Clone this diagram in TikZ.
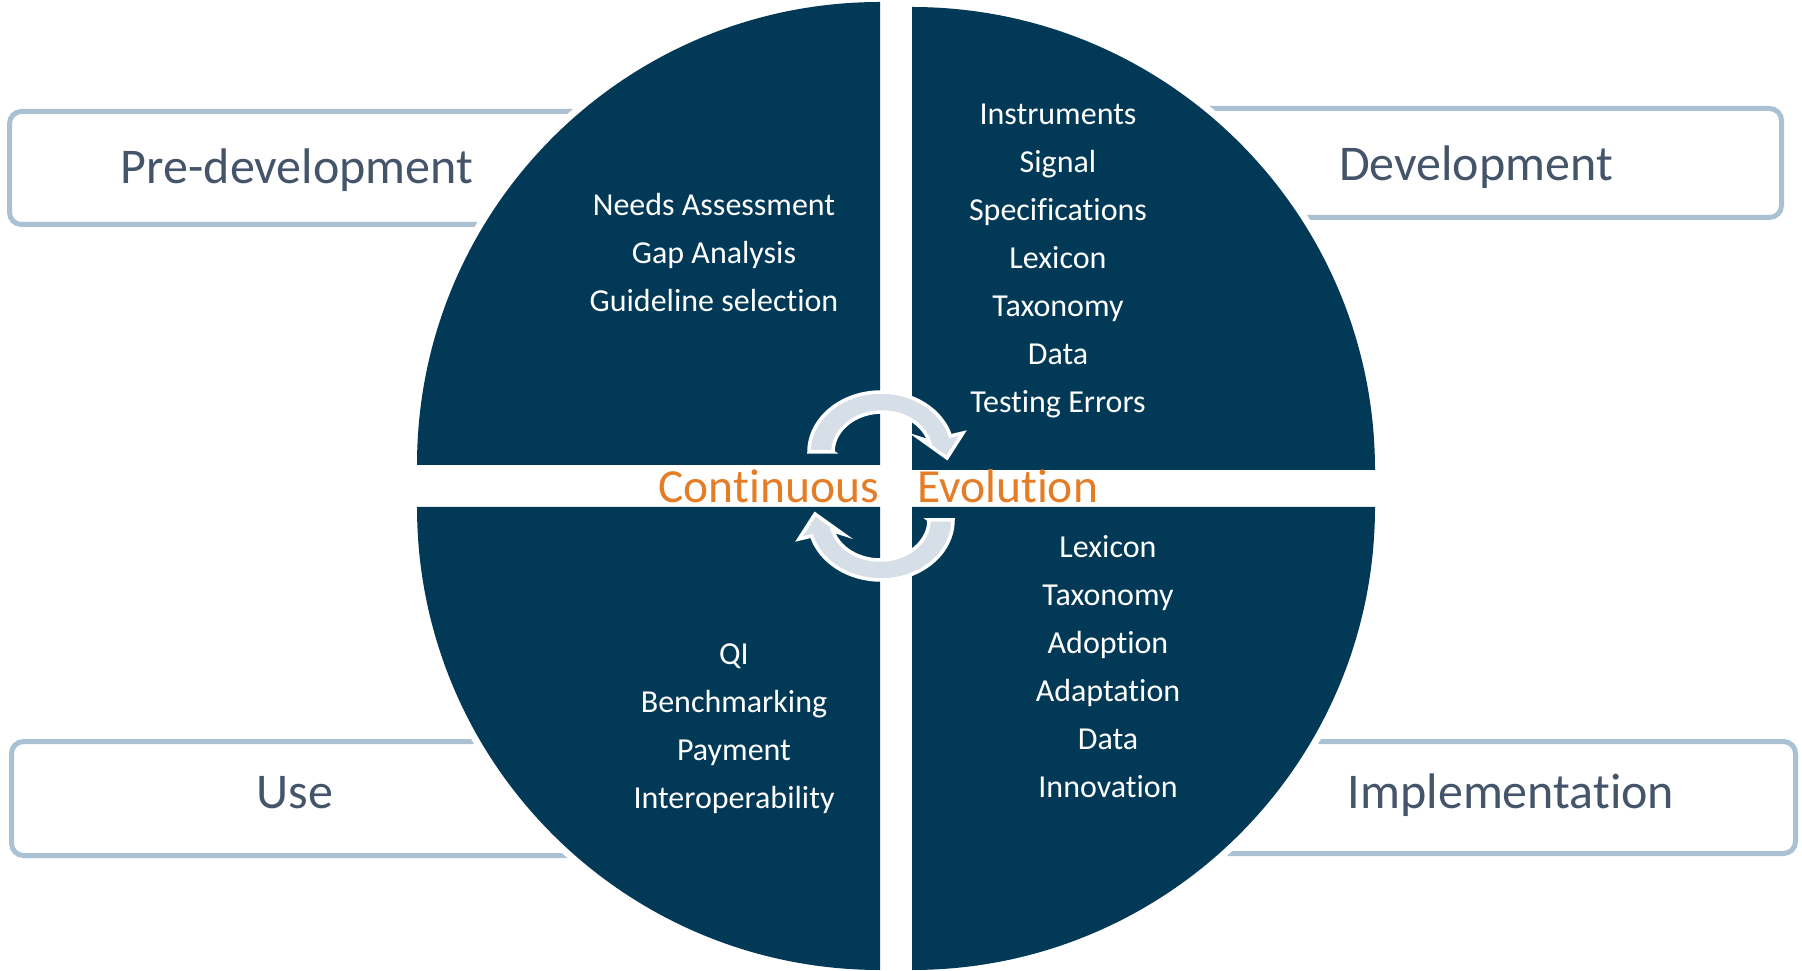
\documentclass[tikz,border=0pt]{standalone}
\usepackage{fontspec}
\setmainfont{Carlito}[Ligatures=NoCommon]
\usepackage{xcolor}

\definecolor{wheelblue}{HTML}{023957}
\definecolor{framegray}{HTML}{A9C1D2}
\definecolor{labelgray}{HTML}{44546A}
\definecolor{loopfill}{HTML}{D6DFE7}
\definecolor{evoorange}{HTML}{E47D26}

\begin{document}
\begin{tikzpicture}[x=1pt,y=1pt,
  stage/.style={draw=framegray,line width=5,rounded corners=12},
  stagelabel/.style={anchor=base,text=labelgray,inner sep=0,font=\fontsize{50}{60}\selectfont},
  item/.style={anchor=base,text=white,inner sep=0,font=\fontsize{32}{38}\selectfont},
  halo/.style={fill=white},
  quarter/.style={fill=wheelblue},
  loop/.style={fill=loopfill,draw=white,line width=3.5},
  evo/.style={text=evoorange,inner sep=0,font=\fontsize{47.5}{56}\selectfont}]
\useasboundingbox (0,0) rectangle (1802,970);

% stage frames, inner ends hidden under the wheel
\draw[stage] (9.5,745.5) rectangle (700,858.5);
\draw[stage] (1100,752.5) rectangle (1781.5,861.5);
\draw[stage] (11.5,114.5) rectangle (700,228.5);
\draw[stage] (1100,116.5) rectangle (1795.5,228.5);

% wheel quarters, each with a white rim
\fill[halo] (880,505) -- ++(-470,0) arc[start angle=180,end angle=90,radius=470] -- cycle;
\fill[quarter] (880,505) -- ++(-463,0) arc[start angle=180,end angle=90,radius=463] -- cycle;
\fill[halo] (912,500) -- ++(0,470) arc[start angle=90,end angle=0,radius=470] -- cycle;
\fill[quarter] (912,500) -- ++(0,463) arc[start angle=90,end angle=0,radius=463] -- cycle;
\fill[halo] (880,463) -- ++(-470,0) arc[start angle=180,end angle=270,radius=470] -- cycle;
\fill[quarter] (880,463) -- ++(-463,0) arc[start angle=180,end angle=270,radius=463] -- cycle;
\fill[halo] (912,463) -- ++(470,0) arc[start angle=0,end angle=-90,radius=470] -- cycle;
\fill[quarter] (912,463) -- ++(463,0) arc[start angle=0,end angle=-90,radius=463] -- cycle;

% cycle arrows
\filldraw[loop] (833,518) -- (809,518) arc[start angle=180,end angle=15.5,x radius=72,y radius=60]
  -- (963,537) -- (947,512) -- (919,532) -- (929.2,528.7)
  arc[start angle=15.5,end angle=180,x radius=49,y radius=40] -- cycle;
\begin{scope}[rotate around={180:(881,484)}]
\filldraw[loop] (833,518) -- (809,518) arc[start angle=180,end angle=15.5,x radius=72,y radius=60]
  -- (963,537) -- (947,512) -- (919,532) -- (929.2,528.7)
  arc[start angle=15.5,end angle=180,x radius=49,y radius=40] -- cycle;
\end{scope}

% stage names
\node[stagelabel] (pre) at (297,786.5) {Pre-development};
\node[stagelabel] (dev) at (1476,789) {Development};
\node[stagelabel] (use) at (295,161.5) {Use};
\node[stagelabel] (impl) at (1511,161.5) {Implementation};

% pre-development
\node[item] (needs) at (714,754) {Needs Assessment};
\node[item] (gap) at (714,706) {Gap Analysis};
\node[item] (guide) at (714,658) {Guideline selection};

% development
\node[item] (instr) at (1058,845) {Instruments};
\node[item] (signal) at (1058,797) {Signal};
\node[item] (spec) at (1058,749) {Specifications};
\node[item] (lexdev) at (1058,701) {Lexicon};
\node[item] (taxdev) at (1058,653) {Taxonomy};
\node[item] (datadev) at (1058,605) {Data};
\node[item] (errors) at (1058,557) {Testing Errors};

% implementation
\node[item] (leximpl) at (1108,412.5) {Lexicon};
\node[item] (taximpl) at (1108,364.5) {Taxonomy};
\node[item] (adopt) at (1108,316.5) {Adoption};
\node[item] (adapt) at (1108,268.5) {Adaptation};
\node[item] (dataimpl) at (1108,220.5) {Data};
\node[item] (innov) at (1108,172.5) {Innovation};

% use
\node[item] (qi) at (734,305.5) {QI};
\node[item] (bench) at (734,257.5) {Benchmarking};
\node[item] (pay) at (734,209.5) {Payment};
\node[item] (interop) at (734,161.5) {Interoperability};

\node[evo,anchor=base east] (cont) at (879,467) {Continuous};
\node[evo,anchor=base west] (evol) at (917,467) {Evolution};
\end{tikzpicture}
\end{document}
